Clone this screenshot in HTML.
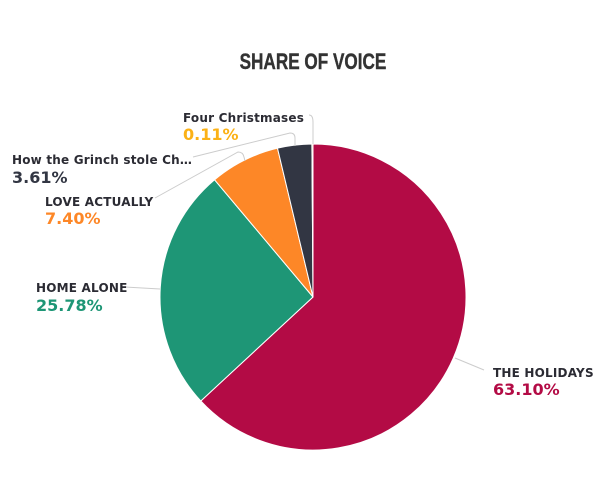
<!DOCTYPE html>
<html><head><meta charset="utf-8"><style>
html,body{margin:0;padding:0;background:#fff;width:600px;height:500px;overflow:hidden}
svg text{font-family:"DejaVu Sans","Liberation Sans",sans-serif;font-weight:bold}
.n{font-size:12px;fill:#2b2b33;letter-spacing:0.2px}
.p{font-size:16px;letter-spacing:0px}
</style></head><body>
<svg width="600" height="500" viewBox="0 0 600 500">
<text x="313" y="69" text-anchor="middle" style="font-family:'Liberation Sans Narrow','Liberation Sans',sans-serif;font-size:22px;fill:#333;stroke:#333;stroke-width:0.4" transform="translate(313 0) scale(0.78 1) translate(-313 0)">SHARE OF VOICE</text>
<g stroke="#fff" stroke-width="1">
<path d="M313 297 L313 144 A153 153 0 1 1 200.8 401 Z" fill="#b30b45"/>
<path d="M313 297 L200.8 401 A153 153 0 0 1 214.6 179.8 Z" fill="#1e9676"/>
<path d="M313 297 L214.6 179.8 A153 153 0 0 1 277.5 148.2 Z" fill="#fd8727"/>
<path d="M313 297 L277.5 148.2 A153 153 0 0 1 311.9 144 Z" fill="#323643"/>
<path d="M313 297 L311.9 144 A153 153 0 0 1 313 144 Z" fill="#fbb116"/>
</g>
<g fill="none" stroke="#ccc" stroke-width="1">
<path d="M309 115 Q313 115 313 122 L313 144"/>
<path d="M193 157 L290 133 Q295 133 295 138 L295 146"/>
<path d="M155 198 L238 152 Q243 152 244 157 L245 161"/>
<path d="M125 287 L160 289"/>
<path d="M455 358 L484 370"/>
</g>
<text class="n" x="183" y="122">Four Christmases</text>
<text class="p" x="183" y="140" fill="#fbb116">0.11%</text>
<text class="n" x="12" y="164">How the Grinch stole Ch…</text>
<text class="p" x="12" y="183" fill="#323643">3.61%</text>
<text class="n" x="45" y="206">LOVE ACTUALLY</text>
<text class="p" x="45" y="224" fill="#fd8727">7.40%</text>
<text class="n" x="36" y="292">HOME ALONE</text>
<text class="p" x="36" y="311" fill="#1e9676">25.78%</text>
<text class="n" x="493" y="377">THE HOLIDAYS</text>
<text class="p" x="493" y="395" fill="#b30b45">63.10%</text>
</svg>
</body></html>
